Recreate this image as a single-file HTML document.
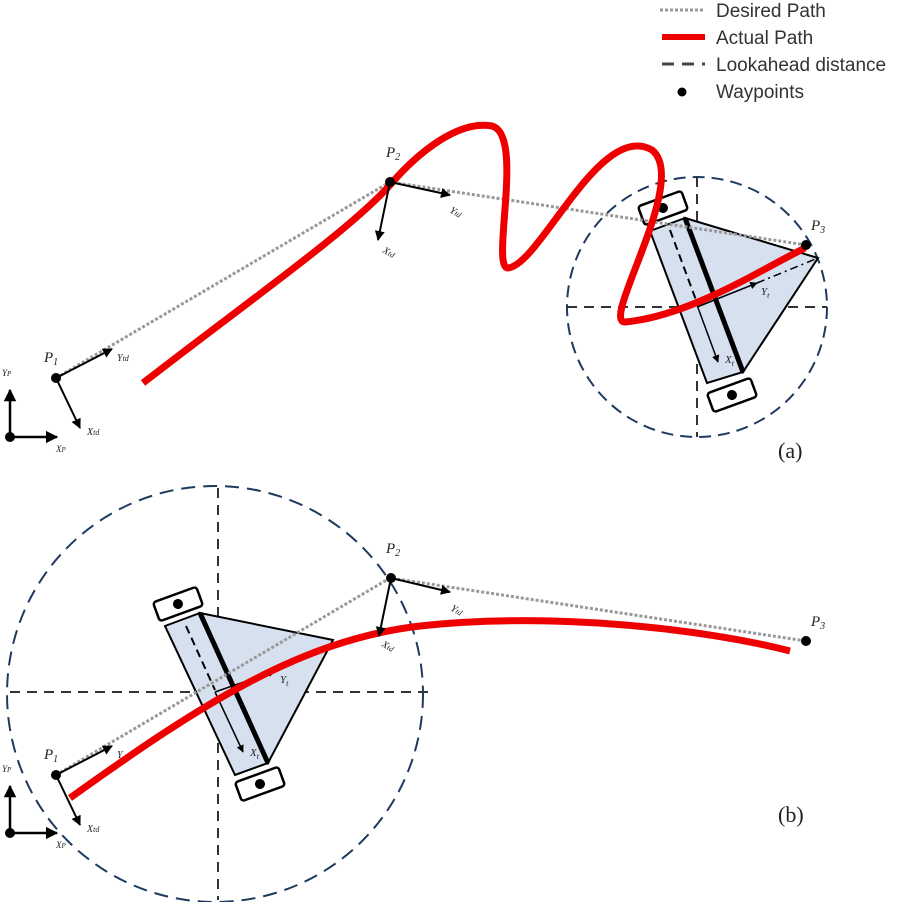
<!DOCTYPE html>
<html><head><meta charset="utf-8"><style>
html,body{margin:0;padding:0;background:#fff;}
svg{display:block;}
.s{font-family:"Liberation Serif",serif;font-style:italic;fill:#222;}
.l{font-family:"Liberation Sans",sans-serif;font-size:19px;fill:#333;}
</style></head><body>
<svg width="902" height="902" viewBox="0 0 902 902" xmlns="http://www.w3.org/2000/svg">
<defs>
<marker id="ah" viewBox="0 0 10 10" refX="9" refY="5" markerWidth="5" markerHeight="5" orient="auto"><path d="M0,0 L10,5 L0,10 z" fill="#000"/></marker>
</defs>
<line x1="660" y1="10" x2="705" y2="10" stroke="#999" stroke-width="3" stroke-dasharray="3,2"/>
<text class="l" x="716" y="17">Desired  Path</text>
<line x1="662" y1="37" x2="705" y2="37" stroke="#e00" stroke-width="6"/>
<text class="l" x="716" y="44">Actual Path</text>
<line x1="662" y1="64" x2="705" y2="64" stroke="#444" stroke-width="3" stroke-dasharray="12,8"/>
<text class="l" x="716" y="71">Lookahead distance</text>
<circle cx="682" cy="92" r="4.5" fill="#000"/>
<text class="l" x="716" y="98">Waypoints</text>

<circle cx="697" cy="307" r="130" fill="none" stroke="#1f3a5f" stroke-width="2" stroke-dasharray="12,7"/>
<line x1="567" y1="307" x2="827" y2="307" stroke="#333" stroke-width="2" stroke-dasharray="10,7"/>
<line x1="697" y1="177" x2="697" y2="437" stroke="#333" stroke-width="2" stroke-dasharray="10,7"/>
<polygon points="685,218 818,258 743,372" fill="#d6e0ef" stroke="#000" stroke-width="2"/>
<polygon points="650,231 685,218 743,372 707,383" fill="#d6e0ef" stroke="#000" stroke-width="2"/>
<line x1="685" y1="218" x2="743" y2="372" stroke="#000" stroke-width="5"/>
<g transform="translate(663,208) rotate(-20)"><rect x="-23" y="-10" width="46" height="20" rx="3" fill="#fff" stroke="#000" stroke-width="2.5"/><circle r="5" fill="#000"/></g>
<g transform="translate(732,395) rotate(-20)"><rect x="-23" y="-10" width="46" height="20" rx="3" fill="#fff" stroke="#000" stroke-width="2.5"/><circle r="5" fill="#000"/></g>
<line x1="670" y1="230" x2="696" y2="300" stroke="#000" stroke-width="2" stroke-dasharray="8,5"/>
<line x1="697" y1="305" x2="718" y2="362" stroke="#000" stroke-width="1.5" marker-end="url(#ah)"/>
<line x1="697" y1="307" x2="757" y2="283" stroke="#000" stroke-width="1.5" marker-end="url(#ah)"/>
<line x1="757" y1="283" x2="818" y2="258" stroke="#000" stroke-width="1.5" stroke-dasharray="8,4,2,4"/>
<text class="s" x="761" y="295" font-size="11">Y<tspan font-size="8" dy="3">t</tspan></text>
<text class="s" x="725" y="363" font-size="11">X<tspan font-size="8" dy="3">t</tspan></text>
<polyline points="56,378 390,182 806,245" fill="none" stroke="#999" stroke-width="3" stroke-dasharray="3,2"/>
<path d="M143,383 C250,300 350,230 390,185 C420,150 460,120 492,126 C525,135 490,268 508,268 C540,265 600,120 652,150 C690,180 600,322 625,322 C690,316 760,270 805,248" fill="none" stroke="#e00" stroke-width="7"/>
<circle cx="56" cy="378" r="5" fill="#000"/>
<circle cx="390" cy="182" r="5" fill="#000"/>
<circle cx="806" cy="245" r="5" fill="#000"/>
<text class="s" x="44" y="362" font-size="15">P<tspan font-size="10" dy="3">1</tspan></text>
<text class="s" x="386" y="157" font-size="15">P<tspan font-size="10" dy="3">2</tspan></text>
<text class="s" x="811" y="230" font-size="15">P<tspan font-size="10" dy="3">3</tspan></text>
<line x1="56" y1="378" x2="112" y2="349" stroke="#000" stroke-width="2" marker-end="url(#ah)"/>
<line x1="56" y1="378" x2="80" y2="428" stroke="#000" stroke-width="2" marker-end="url(#ah)"/>
<text class="s" x="117" y="361" font-size="10">Y<tspan font-size="8">td</tspan></text>
<text class="s" x="87" y="435" font-size="10">X<tspan font-size="8">td</tspan></text>
<line x1="390" y1="182" x2="450" y2="195" stroke="#000" stroke-width="2" marker-end="url(#ah)"/>
<line x1="390" y1="182" x2="378" y2="240" stroke="#000" stroke-width="2" marker-end="url(#ah)"/>
<text class="s" x="449" y="212" font-size="10" transform="rotate(30 449 212)">Y<tspan font-size="8">td</tspan></text>
<text class="s" x="382" y="252" font-size="10" transform="rotate(30 382 252)">X<tspan font-size="8">td</tspan></text>
<line x1="10" y1="437" x2="10" y2="390" stroke="#000" stroke-width="2.5" marker-end="url(#ah)"/>
<line x1="10" y1="437" x2="57" y2="437" stroke="#000" stroke-width="2.5" marker-end="url(#ah)"/>
<circle cx="10" cy="437" r="5" fill="#000"/>
<text class="s" x="2" y="376" font-size="9">Y<tspan font-size="7">P</tspan></text>
<text class="s" x="56" y="452" font-size="9">X<tspan font-size="7">P</tspan></text>
<text x="778" y="458" font-family="Liberation Serif,serif" font-size="22" fill="#222">(a)</text>

<circle cx="215" cy="694" r="208" fill="none" stroke="#1f3a5f" stroke-width="2" stroke-dasharray="14,8"/>
<line x1="10" y1="692" x2="430" y2="692" stroke="#333" stroke-width="2" stroke-dasharray="10,7"/>
<line x1="218" y1="488" x2="218" y2="900" stroke="#333" stroke-width="2" stroke-dasharray="10,7"/>
<polygon points="200,613 333,640 268,763" fill="#d6e0ef" stroke="#000" stroke-width="2"/>
<polygon points="165,626 200,613 268,763 235,775" fill="#d6e0ef" stroke="#000" stroke-width="2"/>
<line x1="200" y1="613" x2="268" y2="763" stroke="#000" stroke-width="5"/>
<g transform="translate(178,604) rotate(-20)"><rect x="-23" y="-10" width="46" height="20" rx="3" fill="#fff" stroke="#000" stroke-width="2.5"/><circle r="5" fill="#000"/></g>
<g transform="translate(260,784) rotate(-20)"><rect x="-23" y="-10" width="46" height="20" rx="3" fill="#fff" stroke="#000" stroke-width="2.5"/><circle r="5" fill="#000"/></g>
<line x1="186" y1="626" x2="215" y2="690" stroke="#000" stroke-width="2" stroke-dasharray="8,5"/>
<line x1="215" y1="692" x2="243" y2="752" stroke="#000" stroke-width="1.5" marker-end="url(#ah)"/>
<line x1="215" y1="692" x2="275" y2="671" stroke="#000" stroke-width="1.5" marker-end="url(#ah)"/>
<text class="s" x="280" y="683" font-size="11">Y<tspan font-size="8" dy="3">t</tspan></text>
<text class="s" x="250" y="756" font-size="11">X<tspan font-size="8" dy="3">t</tspan></text>
<polyline points="56,775 390,578 806,641" fill="none" stroke="#999" stroke-width="3" stroke-dasharray="3,2"/>
<path d="M70,798 C200,705 300,640 420,626 C550,612 700,628 790,651" fill="none" stroke="#e00" stroke-width="7"/>
<circle cx="56" cy="775" r="5" fill="#000"/>
<circle cx="391" cy="578" r="5" fill="#000"/>
<circle cx="806" cy="641" r="5" fill="#000"/>
<text class="s" x="44" y="759" font-size="15">P<tspan font-size="10" dy="3">1</tspan></text>
<text class="s" x="386" y="553" font-size="15">P<tspan font-size="10" dy="3">2</tspan></text>
<text class="s" x="811" y="626" font-size="15">P<tspan font-size="10" dy="3">3</tspan></text>
<line x1="56" y1="775" x2="112" y2="746" stroke="#000" stroke-width="2" marker-end="url(#ah)"/>
<line x1="56" y1="775" x2="80" y2="825" stroke="#000" stroke-width="2" marker-end="url(#ah)"/>
<text class="s" x="117" y="758" font-size="10">Y</text>
<text class="s" x="87" y="832" font-size="10">X<tspan font-size="8">td</tspan></text>
<line x1="391" y1="578" x2="450" y2="592" stroke="#000" stroke-width="2" marker-end="url(#ah)"/>
<line x1="391" y1="578" x2="379" y2="636" stroke="#000" stroke-width="2" marker-end="url(#ah)"/>
<text class="s" x="450" y="610" font-size="10" transform="rotate(30 450 610)">Y<tspan font-size="8">td</tspan></text>
<text class="s" x="381" y="646" font-size="10" transform="rotate(30 381 646)">X<tspan font-size="8">td</tspan></text>
<line x1="10" y1="833" x2="10" y2="786" stroke="#000" stroke-width="2.5" marker-end="url(#ah)"/>
<line x1="10" y1="833" x2="57" y2="833" stroke="#000" stroke-width="2.5" marker-end="url(#ah)"/>
<circle cx="10" cy="833" r="5" fill="#000"/>
<text class="s" x="2" y="772" font-size="9">Y<tspan font-size="7">P</tspan></text>
<text class="s" x="56" y="848" font-size="9">X<tspan font-size="7">P</tspan></text>
<text x="778" y="822" font-family="Liberation Serif,serif" font-size="22" fill="#222">(b)</text>
</svg>
</body></html>
